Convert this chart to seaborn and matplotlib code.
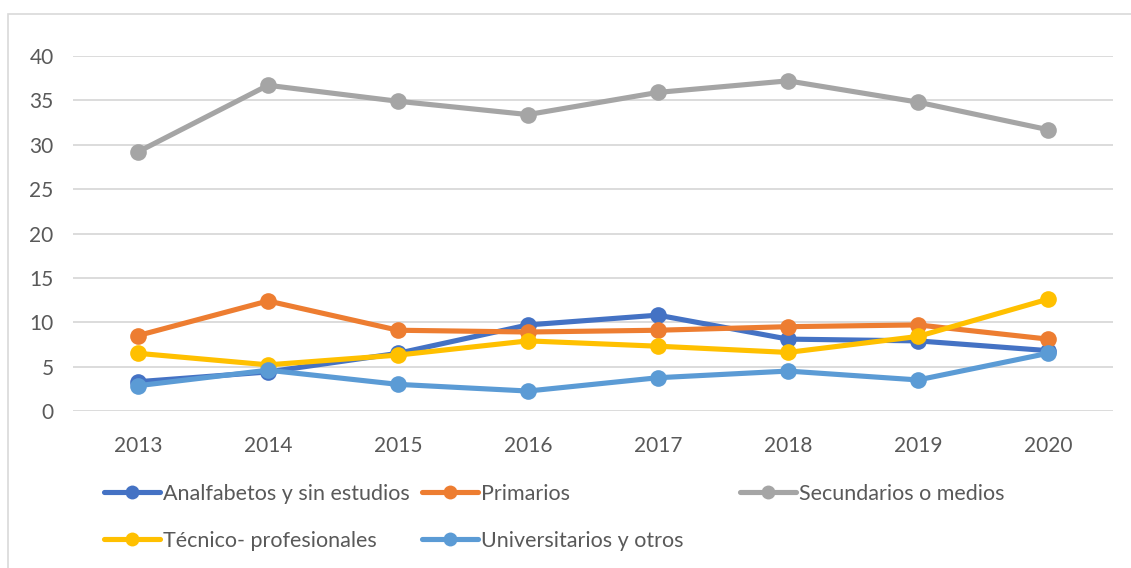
import pandas as pd
import matplotlib.pyplot as plt
import seaborn as sns
from matplotlib.lines import Line2D
from matplotlib.patches import Rectangle

# values
years = [2013, 2014, 2015, 2016, 2017, 2018, 2019, 2020]
analfabetos = [3.3, 4.4, 6.5, 9.7, 10.8, 8.1, 7.9, 6.8]
primarios = [8.5, 12.4, 9.1, 8.9, 9.1, 9.5, 9.7, 8.1]
secundarios = [29.2, 36.7, 34.9, 33.4, 35.9, 37.2, 34.8, 31.7]
tecnico = [6.5, 5.2, 6.3, 7.9, 7.3, 6.6, 8.4, 12.6]
universitarios = [2.85, 4.6, 3.0, 2.25, 3.75, 4.5, 3.5, 6.5]

series = ["Analfabetos y sin estudios", "Primarios", "Secundarios o medios",
          "Técnico- profesionales", "Universitarios y otros"]
colors = ["#4472C4", "#ED7D31", "#A5A5A5", "#FFC000", "#5B9BD5"]

W, H = 1131, 568


def main():
    sns.set_theme(style="white")
    plt.rcParams['font.family'] = ['Lato', 'DejaVu Sans']

    values = [analfabetos, primarios, secundarios, tecnico, universitarios]
    rows = []
    for name, vals in zip(series, values):
        for y, v in zip(years, vals):
            rows.append({"year": y, "valor": v, "serie": name})
    df = pd.DataFrame(rows)

    fig = plt.figure(figsize=(W / 100, H / 100), dpi=100)
    ax = fig.add_axes([73 / W, 157 / H, (1113 - 73) / W, (411 - 56) / H])

    sns.lineplot(data=df, x="year", y="valor", hue="serie", hue_order=series,
                 palette=colors, marker="o", markersize=12, markeredgewidth=0,
                 linewidth=3.7, legend=False, sort=False, ax=ax, zorder=3)

    ax.set_xlim(2012.5, 2020.5)
    ax.set_ylim(0, 40)
    ax.set_yticks(range(0, 41, 5))
    ax.set_xticks(years)
    ax.set_xticklabels([str(y) for y in years])
    ax.set_xlabel("")
    ax.set_ylabel("")
    ax.grid(axis="y", color="#D9D9D9", linewidth=1.3)
    ax.set_axisbelow(True)
    for s in ax.spines.values():
        s.set_visible(False)
    ax.tick_params(axis="y", length=0, pad=14, labelsize=15, labelcolor="#595959")
    ax.tick_params(axis="x", length=0, pad=18, labelsize=15, labelcolor="#595959")

    # chart border
    fig.patches.append(Rectangle((8 / W, -0.1), 1.2, 1 - 14 / H + 0.1,
                                 transform=fig.transFigure, fill=False,
                                 edgecolor="#D9D9D9", linewidth=1.2))

    # legend entries placed like the Excel grid (row by row)
    spots = [(104, 494), (422, 494), (740, 494), (104, 541), (422, 541)]
    for name, col, (px, py) in zip(series, colors, spots):
        h = Line2D([], [], color=col, linewidth=3.7, marker="o", markersize=10,
                   markeredgewidth=0)
        leg = fig.legend([h], [name], loc="center left",
                         bbox_to_anchor=(px / W, 1 - py / H), frameon=False,
                         borderpad=0, borderaxespad=0, handlelength=2.6,
                         handletextpad=0.15, fontsize=15.5)
        for t in leg.get_texts():
            t.set_color("#595959")

    fig.savefig("out.png", dpi=100)


if __name__ == "__main__":
    main()
